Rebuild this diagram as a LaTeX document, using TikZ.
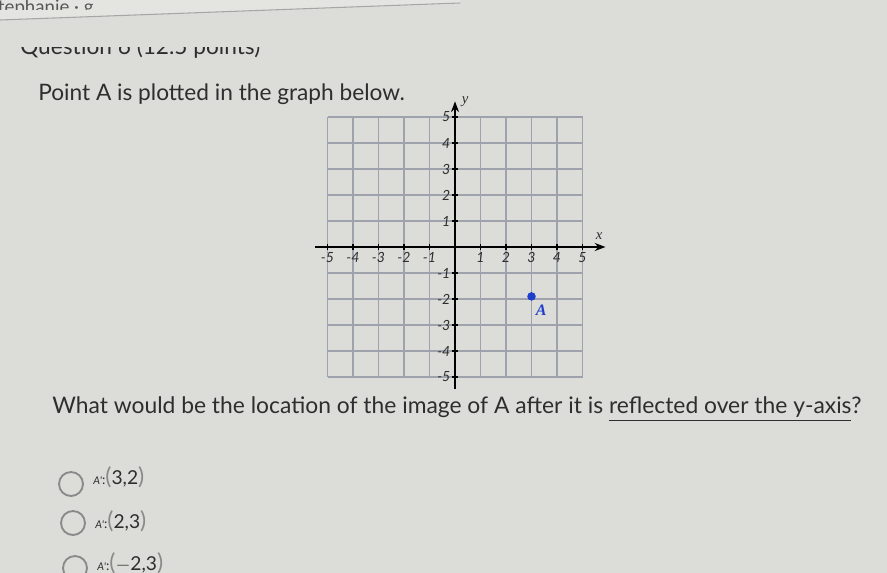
\documentclass[tikz,border=0pt]{standalone}
\usepackage{fontspec}
\setmainfont{Lato}
\newfontfamily\serifA{Liberation Serif}
\usetikzlibrary{arrows.meta}
\definecolor{bg}{HTML}{DCDCD8}
\definecolor{ink}{HTML}{2E2E2E}
\definecolor{gridc}{HTML}{9EA2AD}
\definecolor{dotblue}{HTML}{1E3ECC}
\definecolor{optc}{HTML}{8A8A8A}
\tikzset{
  gridline/.style={draw=gridc, line width=1.3pt},
  axisline/.style={draw=black, line width=1.6pt},
  ticklab/.style={font=\itshape\fontsize{10.5}{11}\selectfont, text=ink, inner sep=1pt},
  radio/.style={circle, draw=optc, line width=1.4pt, minimum size=18pt, inner sep=0pt},
  opttext/.style={anchor=west, text=ink, inner sep=0pt},
  qtext/.style={anchor=base west, text=ink, inner sep=0pt}
}
\newcommand{\aprime}{{\fontsize{8}{9}\selectfont\itshape A\textquotesingle}:}
\begin{document}
\begin{tikzpicture}[x=0.75pt,y=-0.75pt]
\useasboundingbox (0,0) rectangle (887,573);
\fill[bg] (0,0) rectangle (887,573);
\fill[white, opacity=0.25] (0,0) -- (460,0) -- (460,4) -- (0,20) -- cycle;
% top edge line
\draw[gray!70, line width=0.8pt] (0,20) -- (460,3);
% cut-off top texts
\begin{scope}
  \clip (0,0) rectangle (887,10);
  \node[qtext, font=\fontsize{14}{16}\selectfont, text=ink!80] (topname) at (-12,14) {Stephanie · g};
\end{scope}
\begin{scope}
  \clip (0,48) rectangle (887,80);
  \node[qtext] (header) at (20,55) {\resizebox{180pt}{!}{Question 6 (12.5 points)}};
\end{scope}
% first line
\node[qtext] (intro) at (38,101) {\resizebox{275pt}{!}{Point A is plotted in the graph below.}};
% graph
\begin{scope}[shift={(455,247)}, x=19.125pt, y=19.5pt]
  \foreach \i in {-5,...,5} {
    \draw[gridline] (\i,-5) -- (\i,5);
    \draw[gridline] (-5,\i) -- (5,\i);
  }
  \coordinate (xl) at (-5.5,0);
  \coordinate (xr) at (5.9,0);
  \coordinate (yb) at (0,-5.45);
  \coordinate (yt) at (0,5.6);
  \draw[axisline, -{Stealth[length=8pt,width=6pt]}] (xl) -- (xr);
  \draw[axisline, -{Stealth[length=8pt,width=6pt]}] (yb) -- (yt);
  \foreach \i in {-5,...,-1,1,2,3,4,5} {
    \draw[black, line width=1pt] (\i,-0.1) -- (\i,0.1);
    \draw[black, line width=1pt] (-0.1,\i) -- (0.1,\i);
    \node[ticklab, anchor=north] (tx\i) at (\i,-0.15) {\i};
    \node[ticklab, anchor=east] (ty\i) at (-0.12,\i) {\i};
  }
  \node[ticklab, font=\serifA\itshape\fontsize{11}{12}\selectfont] (xlab) at (5.65,0.4) {x};
  \node[ticklab, font=\serifA\itshape\fontsize{11}{12}\selectfont] (ylab) at (0.4,5.6) {y};
  \fill[dotblue] (3,-1.9) circle (3.2pt);
  \node[text=dotblue, font=\serifA\bfseries\itshape\fontsize{12}{13}\selectfont, inner sep=0pt] (Alab) at (3.38,-2.42) {A};
\end{scope}
% question
\node[qtext] (question) at (52,413) {\resizebox{607pt}{!}{What would be the location of the image of A after it is \underline{reflected over the y-axis}?}};
% options
\node[radio] (r1) at (71,484) {};
\node[radio] (r2) at (73,523) {};
\node[radio] (r3) at (75,568) {};
\node[opttext] (o1) at (93,477) {\aprime{\color{optc}\LARGE(}{\Large 3,2}{\color{optc}\LARGE)}};
\node[opttext] (o2) at (95,521) {\aprime{\color{optc}\LARGE(}{\Large 2,3}{\color{optc}\LARGE)}};
\node[opttext] (o3) at (97,563) {\aprime{\color{optc}\LARGE(}{\Large $-$2,3}{\color{optc}\LARGE)}};
\end{tikzpicture}
\end{document}
